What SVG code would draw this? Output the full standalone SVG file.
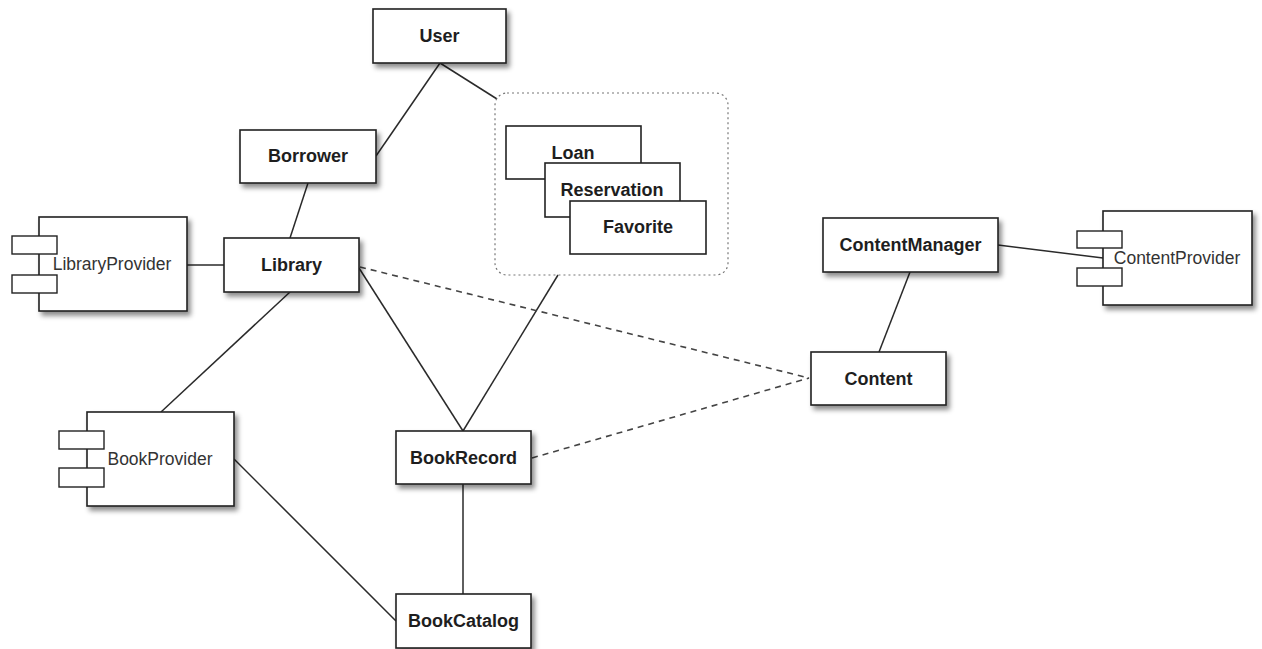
<svg xmlns="http://www.w3.org/2000/svg" width="1262" height="649" viewBox="0 0 1262 649">
  <style>
    .box { fill: #fff; stroke: #222; stroke-width: 1.6; }
    .tab { fill: #fff; stroke: #222; stroke-width: 1.4; }
    .shadow { filter: url(#drop); }
    .lbl { font-family: "Liberation Sans", Arial, sans-serif; font-size: 18px; font-weight: bold; fill: #1e1e1e; text-anchor: middle; }
    .cmp { font-family: "Liberation Sans", Arial, sans-serif; font-size: 17.5px; fill: #333; text-anchor: middle; }
    .edge { stroke: #2a2a2a; stroke-width: 1.5; fill: none; }
    .dep { stroke: #444; stroke-width: 1.6; fill: none; stroke-dasharray: 6 5; }
    .grp { fill: none; stroke: #777; stroke-width: 1.2; stroke-dasharray: 2 3; }
  </style>
  <defs>
    <filter id="drop" x="-20%" y="-20%" width="150%" height="160%">
      <feDropShadow dx="3" dy="4" stdDeviation="2.5" flood-color="#000" flood-opacity="0.45"/>
    </filter>
  </defs>
  <rect width="1262" height="649" fill="#fff"/>

  <!-- connectors -->
  <g id="connectors">
    <line class="edge" x1="440" y1="63" x2="376" y2="156"/>
    <line class="edge" x1="440" y1="63" x2="497" y2="99"/>
    <line class="edge" x1="308" y1="183" x2="290" y2="238"/>
    <line class="edge" x1="187" y1="265" x2="224" y2="265"/>
    <line class="edge" x1="290" y1="292" x2="161" y2="412"/>
    <line class="edge" x1="359" y1="268" x2="463" y2="431"/>
    <line class="edge" x1="558" y1="275" x2="463" y2="431"/>
    <line class="edge" x1="234" y1="459" x2="396" y2="621"/>
    <line class="edge" x1="463" y1="484" x2="463" y2="594"/>
    <line class="edge" x1="910" y1="272" x2="879" y2="352"/>
    <line class="edge" x1="998" y1="245" x2="1103" y2="258"/>
    <line class="dep" x1="360" y1="267" x2="809" y2="378"/>
    <line class="dep" x1="532" y1="458" x2="809" y2="378"/>
  </g>

  <!-- User -->
  <g id="user">
    <rect class="box shadow" x="373" y="9" width="133" height="54"/>
    <text class="lbl" x="439.5" y="42">User</text>
  </g>

  <!-- Borrower -->
  <g id="borrower">
    <rect class="box shadow" x="240" y="130" width="136" height="53"/>
    <text class="lbl" x="308" y="162">Borrower</text>
  </g>

  <!-- Library -->
  <g id="library">
    <rect class="box shadow" x="224" y="238" width="135" height="54"/>
    <text class="lbl" x="291.5" y="271">Library</text>
  </g>

  <!-- LibraryProvider component -->
  <g id="library-provider">
    <rect class="box shadow" x="39" y="217" width="148" height="94"/>
    <rect class="tab" x="12" y="236" width="45" height="18"/>
    <rect class="tab" x="12" y="275" width="45" height="18"/>
    <text class="cmp" x="112" y="270">LibraryProvider</text>
  </g>

  <!-- Loan / Reservation / Favorite group -->
  <g id="activity-group">
    <rect class="grp" x="495" y="93" width="233" height="182" rx="12" ry="12"/>
    <g id="loan">
      <rect class="box" x="506" y="126" width="135" height="53"/>
      <text class="lbl" x="573" y="159">Loan</text>
    </g>
    <g id="reservation">
      <rect class="box" x="545" y="163" width="135" height="54"/>
      <text class="lbl" x="612" y="196">Reservation</text>
    </g>
    <g id="favorite">
      <rect class="box" x="570" y="201" width="136" height="53"/>
      <text class="lbl" x="638" y="233">Favorite</text>
    </g>
  </g>

  <!-- BookProvider component -->
  <g id="book-provider">
    <rect class="box shadow" x="87" y="412" width="147" height="94"/>
    <rect class="tab" x="59" y="431" width="45" height="18"/>
    <rect class="tab" x="59" y="468" width="45" height="19"/>
    <text class="cmp" x="160" y="465">BookProvider</text>
  </g>

  <!-- BookRecord -->
  <g id="book-record">
    <rect class="box shadow" x="396" y="431" width="135" height="53"/>
    <text class="lbl" x="463.5" y="464">BookRecord</text>
  </g>

  <!-- BookCatalog -->
  <g id="book-catalog">
    <rect class="box shadow" x="396" y="594" width="135" height="54"/>
    <text class="lbl" x="463.5" y="627">BookCatalog</text>
  </g>

  <!-- ContentManager -->
  <g id="content-manager">
    <rect class="box shadow" x="823" y="218" width="175" height="54"/>
    <text class="lbl" x="910.5" y="251">ContentManager</text>
  </g>

  <!-- Content -->
  <g id="content">
    <rect class="box shadow" x="811" y="352" width="135" height="53"/>
    <text class="lbl" x="878.5" y="385">Content</text>
  </g>

  <!-- ContentProvider component -->
  <g id="content-provider">
    <rect class="box shadow" x="1103" y="211" width="149" height="94"/>
    <rect class="tab" x="1077" y="231" width="45" height="17"/>
    <rect class="tab" x="1077" y="268" width="45" height="18"/>
    <text class="cmp" x="1177" y="264">ContentProvider</text>
  </g>
</svg>
